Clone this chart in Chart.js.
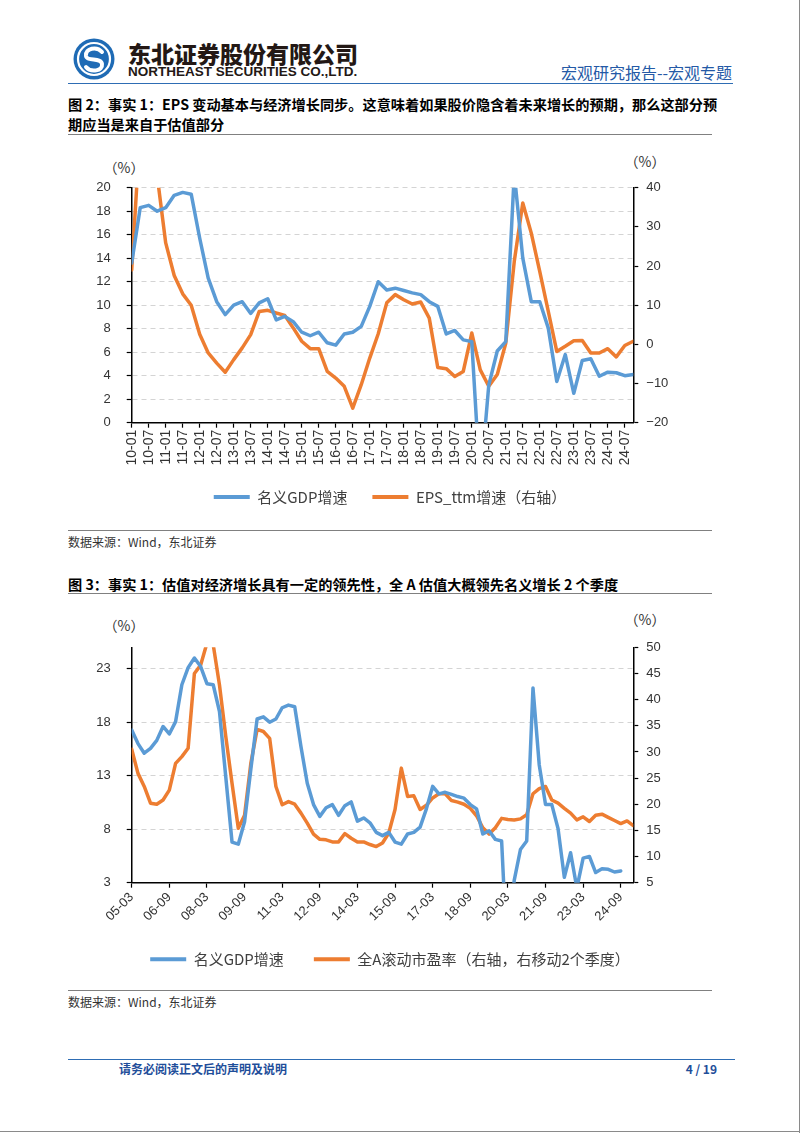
<!DOCTYPE html>
<html lang="zh">
<head>
<meta charset="utf-8">
<script src="https://cdn.jsdelivr.net/npm/chart.js@4.4.0/dist/chart.umd.min.js"></script>
<style>
html, body { margin: 0; padding: 0; background: #fff; }
body { width: 802px; height: 1133px; position: relative; overflow: hidden; font-family: "Noto Sans CJK SC", sans-serif; color: #000; }
.t { position: absolute; white-space: nowrap; }
.rule { position: absolute; height: 0; }
.pct { position: absolute; font-size: 14px; color: #333; transform: translate(-50%, -50%); white-space: nowrap; }
canvas { position: absolute; left: 0; }
</style>
</head>
<body>

<!-- header -->
<svg style="position:absolute;left:73px;top:38px" width="42" height="42" viewBox="0 0 42 42">
  <circle cx="21" cy="21" r="20.5" fill="#1f6bb5"/>
  <circle cx="21" cy="21" r="16" fill="none" stroke="#fff" stroke-width="2.2"/>
  <path d="M29 14 C24 8, 12 10, 13 18 C14 24, 28 19, 29 26 C30 33, 18 35, 13 29" fill="none" stroke="#fff" stroke-width="4" stroke-linecap="round"/>
</svg>
<div class="t" style="left:128px;top:41px;font-size:23px;line-height:24px;font-weight:900;color:#231815">东北证券股份有限公司</div>
<div class="t" style="left:128px;top:65px;font-size:13.5px;line-height:14px;font-weight:700;font-family:'Liberation Sans',sans-serif;color:#231815">NORTHEAST SECURITIES CO.,LTD.</div>
<div class="t" style="right:70px;top:64px;font-size:16px;line-height:17px;color:#2459a6">宏观研究报告--宏观专题</div>
<div class="rule" style="left:68px;top:83px;width:665px;border-top:1.5px solid #2e6db4"></div>

<!-- figure 2 -->
<div class="t" style="left:68px;top:94px;font-size:14.2px;line-height:20px;font-weight:700">图 2：事实 1：EPS 变动基本与经济增长同步。这意味着如果股价隐含着未来增长的预期，那么这部分预<br>期应当是来自于估值部分</div>
<div class="rule" style="left:68px;top:134px;width:644px;border-top:1px solid #808080"></div>
<div class="pct" style="left:124px;top:167px">（%）</div>
<div class="pct" style="left:645px;top:161px">（%）</div>
<canvas id="epsChart" width="780" height="370" style="top:150px"></canvas>
<div class="rule" style="left:68px;top:530px;width:644px;border-top:1px solid #808080"></div>
<div class="t" style="left:68px;top:535px;font-size:12px;line-height:13px;color:#333">数据来源：Wind，东北证券</div>

<!-- figure 3 -->
<div class="t" style="left:68px;top:574px;font-size:14.2px;line-height:20px;font-weight:700">图 3：事实 1：估值对经济增长具有一定的领先性，全 A 估值大概领先名义增长 2 个季度</div>
<div class="rule" style="left:68px;top:593px;width:644px;border-top:1px solid #808080"></div>
<div class="pct" style="left:124px;top:625px">（%）</div>
<div class="pct" style="left:645px;top:619px">（%）</div>
<canvas id="peChart" width="780" height="380" style="top:600px"></canvas>
<div class="rule" style="left:68px;top:990px;width:644px;border-top:1px solid #808080"></div>
<div class="t" style="left:68px;top:995px;font-size:12px;line-height:13px;color:#333">数据来源：Wind，东北证券</div>

<!-- footer -->
<div class="rule" style="left:68px;top:1059px;width:667px;border-top:1.5px solid #2e6db4"></div>
<div class="t" style="left:119px;top:1062px;font-size:12px;line-height:14px;font-weight:700;color:#1f4e9a">请务必阅读正文后的声明及说明</div>
<div class="t" style="right:85px;top:1062px;font-size:12px;line-height:14px;font-weight:700;color:#1f4e9a">4 / 19</div>
<div style="position:absolute;left:799px;top:0;width:0;height:1133px;border-left:1px solid #8a8a8a"></div>
<div style="position:absolute;left:0;top:1131px;width:800px;height:0;border-top:1px solid #8a8a8a"></div>

<script>
// ---- figure 2 data (quarterly) ----
const epsDates = [
    '10-01','10-04','10-07','10-10','11-01','11-04','11-07','11-10','12-01','12-04','12-07','12-10',
    '13-01','13-04','13-07','13-10','14-01','14-04','14-07','14-10','15-01','15-04','15-07','15-10',
    '16-01','16-04','16-07','16-10','17-01','17-04','17-07','17-10','18-01','18-04','18-07','18-10',
    '19-01','19-04','19-07','19-10','20-01','20-04','20-07','20-10','21-01','21-04','21-07','21-10',
    '22-01','22-04','22-07','22-10','23-01','23-04','23-07','23-10','24-01','24-04','24-07','24-10'
];
const gdpGrowth = [
    13.6, 18.3, 18.5, 18.0, 18.3, 19.35, 19.6, 19.45, 15.7, 12.3,
    10.3, 9.2, 10.0, 10.3, 9.3, 10.2, 10.55, 8.75, 9.05, 8.6,
    7.7, 7.4, 7.7, 6.8, 6.6, 7.55, 7.7, 8.2, 9.9, 12.0,
    11.3, 11.45, 11.25, 11.05, 10.9, 10.3, 9.9, 7.55, 7.85, 7.05,
    6.9, -5.3, 3.2, 6.1, 6.9, 21.2, 14.0, 10.3, 10.3, 8.05,
    3.5, 5.8, 2.5, 5.3, 5.45, 3.95, 4.3, 4.25, 4.0, 4.1
];
const epsGrowth = [
    19.0, 55.0, 50.0, 43.0, 25.9, 17.6, 12.9, 10.0, 2.6, -2.2,
    -4.8, -7.1, -3.9, -0.9, 2.5, 8.4, 8.7, 8.0, 7.4, 4.2,
    0.8, -1.1, -1.1, -6.9, -8.6, -10.7, -16.3, -10.3, -3.5, 2.7,
    10.6, 12.7, 11.4, 10.3, 10.8, 6.7, -5.9, -6.2, -8.2, -6.9,
    2.9, -6.5, -10.7, -7.7, 0.3, 21.2, 36.1, 28.4, 18.6, 8.4,
    -1.8, -0.5, 0.9, 1.0, -2.2, -2.2, -1.1, -3.2, -0.3, 0.8
];
const epsLeftTicks = [0, 2, 4, 6, 8, 10, 12, 14, 16, 18, 20];
const epsRightTicks = [-20, -10, 0, 10, 20, 30, 40];

// ---- figure 3 data (quarterly) ----
const peDates = [
    '05-03','05-06','05-09','05-12','06-03','06-06','06-09','06-12','07-03','07-06','07-09','07-12',
    '08-03','08-06','08-09','08-12','09-03','09-06','09-09','09-12','10-03','10-06','10-09','10-12',
    '11-03','11-06','11-09','11-12','12-03','12-06','12-09','12-12','13-03','13-06','13-09','13-12',
    '14-03','14-06','14-09','14-12','15-03','15-06','15-09','15-12','16-03','16-06','16-09','16-12',
    '17-03','17-06','17-09','17-12','18-03','18-06','18-09','18-12','19-03','19-06','19-09','19-12',
    '20-03','20-06','20-09','20-12','21-03','21-06','21-09','21-12','22-03','22-06','22-09','22-12',
    '23-03','23-06','23-09','23-12','24-03','24-06','24-09','24-12','25-03'
];
const gdpGrowth2 = [
    17.27, 16.0, 15.1, 15.55, 16.3, 17.6, 16.9, 18.05, 21.5, 23.1,
    24.0, 23.2, 21.6, 21.5, 19.0, 12.9, 6.8, 6.6, 8.7,
    13.6, 18.3, 18.5, 18.0, 18.3, 19.35, 19.6, 19.45, 15.7, 12.3,
    10.3, 9.2, 10.0, 10.3, 9.3, 10.2, 10.55, 8.75, 9.05, 8.6,
    7.7, 7.4, 7.7, 6.8, 6.6, 7.55, 7.7, 8.2, 9.9, 12.0,
    11.3, 11.45, 11.25, 11.05, 10.9, 10.3, 9.9, 7.55, 7.85, 7.05,
    6.9, -5.3, 3.2, 6.1, 6.9, 21.2, 14.0, 10.3, 10.3, 8.05,
    3.5, 5.8, 2.5, 5.3, 5.45, 3.95, 4.3, 4.25, 4.0, 4.1
];
const peRolling = [
    30.5, 25.9, 23.4, 20.2, 20.0, 20.8, 22.7, 27.8, 29.1, 30.7,
    45.0, 46.6, 50.8, 50.5, 42.8, 33.0, 24.0, 15.4, 17.9, 27.8,
    34.3, 33.9, 32.6, 23.4, 19.9, 20.5, 20.0, 18.3, 16.4, 14.3,
    13.3, 13.2, 12.8, 12.8, 14.4, 13.5, 12.8, 12.8, 12.3, 11.9,
    12.6, 14.5, 19.0, 26.9, 21.5, 21.6, 19.0, 19.8, 21.2, 22.0,
    22.0, 20.7, 20.4, 20.0, 19.2, 17.8, 15.5, 14.3, 15.5, 17.3,
    17.1, 17.0, 17.2, 18.0, 22.0, 23.0, 23.4, 20.8, 20.2, 19.2,
    18.3, 17.0, 17.6, 16.7, 17.9, 18.1, 17.5, 16.9, 16.3, 16.8, 15.9
];
const peLeftTicks = [3, 8, 13, 18, 23];
const peRightTicks = [5, 10, 15, 20, 25, 30, 35, 40, 45, 50];

const BLUE = '#5b9bd5';
const ORANGE = '#ed7d31';
const tickFont = { family: 'Liberation Sans', size: 13 };

function lineSet(label, data, color, axis) {
    return {
        label: label,
        data: data,
        yAxisID: axis,
        borderColor: color,
        backgroundColor: color,
        borderWidth: 3.5,
        pointRadius: 0,
        tension: 0,
        borderJoinStyle: 'round',
        borderCapStyle: 'round',
        clip: 0
    };
}

function yAxis(pos, min, max, ticks, width, padding, gridOn) {
    return {
        position: pos,
        min: min,
        max: max,
        afterBuildTicks: scale => { scale.ticks = ticks.map(v => ({ value: v })); },
        afterFit: scale => { scale.width = width; },
        ticks: {
            font: tickFont,
            color: '#333',
            padding: padding,
            callback: v => String(v).replace('-', '\u2212')
        },
        grid: {
            drawOnChartArea: gridOn,
            color: c => (c.tick && c.tick.value === min) ? 'rgba(0,0,0,0)' : '#d4d4d4',
            lineWidth: 1,
            tickLength: 5,
            tickColor: '#000',
            tickWidth: 1.2
        },
        border: { display: true, color: '#000', width: 1.5, dash: [5, 4] }
    };
}

function xAxis(every, rotation, fontSize, height) {
    return {
        afterBuildTicks: scale => { scale.ticks = scale.ticks.filter((t, i) => i % every === 0); },
        afterFit: scale => { scale.height = height; },
        ticks: {
            autoSkip: false,
            minRotation: rotation,
            maxRotation: rotation,
            font: { family: 'Liberation Sans', size: fontSize },
            color: '#333',
            padding: 2
        },
        grid: { drawOnChartArea: false, tickLength: 5, tickColor: '#000', tickWidth: 1.2 },
        border: { display: true, color: '#000', width: 1.5 }
    };
}

function legendOpts(gap) {
    return {
        position: 'bottom',
        labels: {
            boxWidth: 36,
            boxHeight: 4,
            padding: gap,
            color: '#404040',
            font: { family: 'Noto Sans CJK SC', size: 15 },
            generateLabels: chart => Chart.defaults.plugins.legend.labels.generateLabels(chart)
                .map(item => Object.assign(item, { lineWidth: 0 }))
        }
    };
}

new Chart(document.getElementById('epsChart').getContext('2d'), {
    type: 'line',
    data: {
        labels: epsDates,
        datasets: [
            lineSet('名义GDP增速', gdpGrowth, BLUE, 'y'),
            lineSet('EPS_ttm增速（右轴）', epsGrowth, ORANGE, 'y1')
        ]
    },
    options: {
        responsive: false,
        animation: false,
        events: [],
        layout: { padding: { top: 37.7, left: 0, right: 0, bottom: 5.5 } },
        plugins: { legend: legendOpts(25), tooltip: { enabled: false } },
        scales: {
            x: xAxis(2, 90, 14, 41.8),
            y: yAxis('left', 0, 20, epsLeftTicks, 131.7, 16, true),
            y1: yAxis('right', -20, 40, epsRightTicks, 146.7, 8, false)
        }
    }
});

new Chart(document.getElementById('peChart').getContext('2d'), {
    type: 'line',
    data: {
        labels: peDates,
        datasets: [
            lineSet('名义GDP增速', gdpGrowth2, BLUE, 'y'),
            lineSet('全A滚动市盈率（右轴，右移动2个季度）', peRolling, ORANGE, 'y1')
        ]
    },
    options: {
        responsive: false,
        animation: false,
        events: [],
        layout: { padding: { top: 47.3, left: 0, right: 0, bottom: 3.2 } },
        plugins: { legend: legendOpts(30), tooltip: { enabled: false } },
        scales: {
            x: xAxis(6, 45, 13, 39.1),
            y: yAxis('left', 3, 25, peLeftTicks, 131.7, 16, true),
            y1: yAxis('right', 5, 50, peRightTicks, 146.7, 8, false)
        }
    }
});
</script>
</body>
</html>
